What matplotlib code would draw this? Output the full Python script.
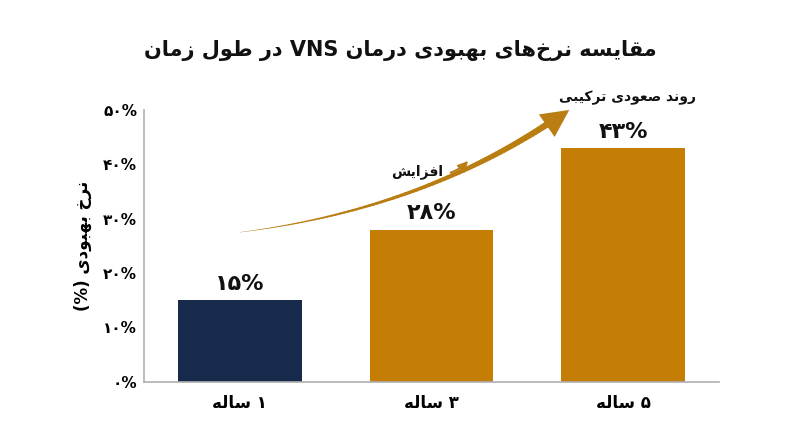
import re
import unicodedata
import numpy as np
import matplotlib
matplotlib.use('Agg')
import matplotlib.pyplot as plt
from matplotlib.collections import LineCollection

# Datos
categorias = ['۱ ساله', '۳ ساله', '۵ ساله']
valores = [15, 28, 43]
etiquetas = ['۱۵%', '۲۸%', '۴۳%']
colores = ['#172a4c', '#c47d05', '#c47d05']
yticks = [0, 10, 20, 30, 40, 50]
ytick_labels = ['۰%', '۱۰%', '۲۰%', '۳۰%', '۴۰%', '۵۰%']

titulo = 'مقایسه نرخ‌های بهبودی درمان VNS در طول زمان'
ylabel = 'نرخ بهبودی (%)'
txt_aumento = 'افزایش'
txt_tendencia = 'روند صعودی ترکیبی'

# Formas de presentacion arabes (matplotlib no hace shaping)
FORMAS = {}
for cp in list(range(0xFB50, 0xFE00)) + list(range(0xFE70, 0xFF00)):
    d = unicodedata.decomposition(chr(cp)).split()
    if len(d) == 2 and d[0] in ('<isolated>', '<final>', '<initial>', '<medial>'):
        FORMAS.setdefault(chr(int(d[1], 16)), {})[d[0][1:-1]] = chr(cp)


def fa(texto):
    out = []
    for i, ch in enumerate(texto):
        f = FORMAS.get(ch)
        if not f:
            out.append(ch)
            continue
        prev = texto[i - 1] if i > 0 else ''
        nxt = texto[i + 1] if i + 1 < len(texto) else ''
        une_prev = prev in FORMAS and 'initial' in FORMAS[prev]
        une_sig = 'initial' in f and nxt in FORMAS
        if une_prev and une_sig:
            forma = 'medial'
        elif une_prev:
            forma = 'final'
        elif une_sig:
            forma = 'initial'
        else:
            forma = 'isolated'
        out.append(f.get(forma, f.get('isolated', ch)))
    s = ''.join(out).replace('\u200c', '')[::-1]
    s = re.sub(r'[A-Za-z0-9]+', lambda m: m.group()[::-1], s)
    return s.translate(str.maketrans('()', ')('))


plt.rcParams['font.family'] = ['DejaVu Sans']
plt.rcParams['font.weight'] = 'bold'

fig = plt.figure(figsize=(8, 4.47), dpi=100)
ax = fig.add_axes([0.18, 0.146, 0.719, 0.608])

x = list(range(len(categorias)))
ax.bar(x, valores, width=0.645, color=colores, zorder=2)

for xi, v, lab in zip(x, valores, etiquetas):
    ax.text(xi, v + 3, lab, ha='center', va='center', fontsize=16,
            fontweight='bold', color='#111111')

ax.set_xlim(-0.5, 2.5)
ax.set_ylim(0, 50)
ax.set_xticks(x)
ax.set_xticklabels([fa(c) for c in categorias], fontsize=12, fontweight='bold')
ax.set_yticks(yticks)
ax.set_yticklabels(ytick_labels, fontsize=11, fontweight='bold')
ax.tick_params(axis='y', length=0, pad=5)
ax.tick_params(axis='x', length=0, pad=9)
ax.set_ylabel(fa(ylabel), fontsize=12, fontweight='bold', labelpad=8)

for s in ['top', 'right']:
    ax.spines[s].set_visible(False)
for s in ['left', 'bottom']:
    ax.spines[s].set_color('#b0b0b0')
    ax.spines[s].set_linewidth(1.2)

# Flecha curva de tendencia (cola afinada + punta)
oro = '#b97d12'
p0 = np.array([0.0, 27.5])
pc = np.array([0.93, 31.6])
p2 = np.array([1.63, 48.0])
t = np.linspace(0, 1, 80)[:, None]
curva = (1 - t) ** 2 * p0 + 2 * (1 - t) * t * pc + t ** 2 * p2
segs = np.stack([curva[:-1], curva[1:]], axis=1)
anchos = np.linspace(0.2, 4.6, len(segs))
ax.add_collection(LineCollection(segs, linewidths=anchos, colors=oro,
                                 capstyle='round', zorder=3, clip_on=False))
ax.annotate('', xy=(1.73, 50.3), xytext=(1.58, 46.6),
            arrowprops=dict(arrowstyle='-|>,head_length=1.1,head_width=0.55',
                            color=oro, lw=0, mutation_scale=18),
            annotation_clip=False, zorder=3)

ax.annotate('', xy=(1.20, 41.0), xytext=(1.085, 38.3),
            arrowprops=dict(arrowstyle='-|>,head_length=0.6,head_width=0.3',
                            color=oro, lw=1.4,
                            connectionstyle='arc3,rad=0.15',
                            mutation_scale=10))
ax.text(1.06, 38.6, fa(txt_aumento), ha='right', va='center', fontsize=10,
        fontweight='bold', color='#111111')
ax.text(2.02, 52.3, fa(txt_tendencia), ha='center', va='center', fontsize=10,
        fontweight='bold', color='#111111', clip_on=False)

fig.text(0.5, 0.888, fa(titulo), ha='center', va='center', fontsize=15,
         fontweight='bold', color='#111111')

fig.savefig('out.png', dpi=100, facecolor='white')
